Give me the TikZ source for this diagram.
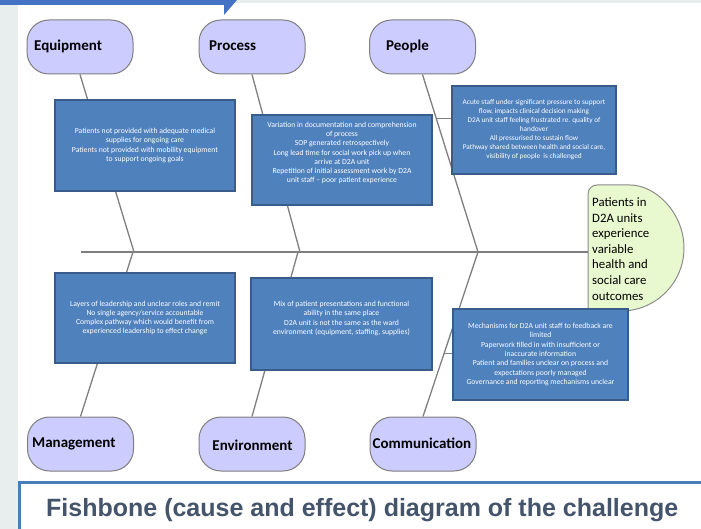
\documentclass[tikz,border=0pt]{standalone}
\usepackage{fontspec}
\setmainfont{Carlito}
\newfontfamily\titlefont{Liberation Sans}
\usetikzlibrary{calc}
\definecolor{ovfill}{HTML}{CCCCFF}
\definecolor{ovline}{HTML}{7F7F7F}
\definecolor{boxfill}{HTML}{4F81BD}
\definecolor{boxline}{HTML}{385D8A}
\definecolor{headfill}{HTML}{E8F8CF}
\definecolor{headline}{HTML}{8C8C8C}
\definecolor{boneclr}{HTML}{7F7F7F}
\definecolor{stripclr}{HTML}{E8EDED}
\definecolor{tabblue}{HTML}{4472C4}
\definecolor{titleclr}{HTML}{44546A}
\definecolor{titleline}{HTML}{4A7EBB}
\begin{document}
\begin{tikzpicture}[x=1pt,y=-1pt,
  oval/.style={draw=ovline, fill=ovfill, line width=1pt, rounded corners=22pt,
    minimum width=106pt, minimum height=54pt, inner sep=0pt},
  ovtext/.style={font=\fontsize{15}{18}\selectfont\bfseries, inner sep=0pt, text=black},
  causebox/.style={draw=boxline, fill=boxfill, line width=1.6pt, inner sep=0pt,
    text=white, align=center, font=\fontsize{7.7}{9.3}\selectfont},
  boxtext/.style={text=white, align=center, font=\fontsize{7.7}{9.3}\selectfont, inner sep=0pt},
  bone/.style={draw=boneclr, line width=1.3pt},
  spine/.style={draw=boneclr, line width=1.6pt}]

\useasboundingbox (0,0) rectangle (701,529);
\fill[stripclr] (0,0) rectangle (701,529);
\fill[white] (18,3) rectangle (701,529);
\fill[tabblue] (0,0) -- (237,0) -- (224,15) -- (224,5) -- (0,5) -- cycle;

% category ovals
\node[oval] (eq) at (80,47) {};
\node[oval] (pr) at (252,47) {};
\node[oval] (pe) at (422.5,47) {};
\node[oval] (ma) at (80.5,444) {};
\node[oval] (en) at (252,444) {};
\node[oval] (co) at (423,444) {};

\node[ovtext, anchor=west] (eqt) at (34,46) {Equipment};
\node[ovtext, anchor=west] (prt) at (209,46) {Process};
\node[ovtext, anchor=west] (pet) at (386,46) {People};
\node[ovtext, anchor=west] (mat) at (32,444) {Management};
\node[ovtext] (ent) at (252.5,445) {Environment};
\node[ovtext] (cot) at (422,443) {Communication};

% head
\draw[draw=headline, fill=headfill, line width=1pt]
  [rounded corners=9pt] (588,311) -- (588,185) -- (621,185)
  [sharp corners] arc[start angle=-90, end angle=90, radius=63] -- cycle;
\node[anchor=west, inner sep=0pt, align=left,
      font=\fontsize{12.8}{15.6}\selectfont] (head) at (592,249)
  {Patients in\\D2A units\\experience\\variable\\health and\\social care\\outcomes};

% spine and bones
\coordinate (tail) at (81,252);
\coordinate (headw) at (588,252);
\coordinate (s1) at (134,252);
\coordinate (s2) at (300,252);
\coordinate (s3) at (478,252);
\coordinate (t1) at (133,252);
\coordinate (t2) at (298,252);
\coordinate (t3) at (478,252);
\draw[spine] (tail) -- (headw);
\draw[bone] (eq.south) -- (s1);
\draw[bone] (pr.south) -- (s2);
\draw[bone] (pe.south) -- (s3) coordinate[pos=0.2472] (pstub);
\draw[bone] (t1) -- (ma.north);
\draw[bone] (t2) -- (en.north);
\draw[bone] (t3) -- (co.north);
\path (t3) -- (co.north) coordinate[pos=0.618] (cstub);

% cause boxes
\node[causebox, minimum width=180pt, minimum height=91pt] (eqbox) at (145,145.5)
  {Patients not provided with adequate medical\\supplies for ongoing care\\Patients not provided with mobility equipment\\to support ongoing goals};
\node[causebox, minimum width=180pt, minimum height=90pt] (prbox) at (342,160) {};
\node[boxtext] (prtext) at (342,153)
  {Variation in documentation and comprehension\\of process\\SOP generated retrospectively\\Long lead time for social work pick up when\\arrive at D2A unit\\Repetition of initial assessment work by D2A\\unit staff -- poor patient experience};
\node[causebox, minimum width=164pt, minimum height=88pt,
      font=\fontsize{7.3}{9}\selectfont] (pebox) at (534,130)
  {Acute staff under significant pressure to support\\flow, impacts clinical decision making\\D2A unit staff feeling frustrated re. quality of\\handover\\All pressurised to sustain flow\\Pathway shared between health and social care,\\visibility of people\ \ is challenged};
\node[causebox, minimum width=180pt, minimum height=90pt] (mabox) at (145,318)
  {Layers of leadership and unclear roles and remit\\No single agency/service accountable\\Complex pathway which would benefit from\\experienced leadership to effect change};
\node[causebox, minimum width=181pt, minimum height=92pt] (enbox) at (341.5,324) {};
\node[boxtext] (entext) at (341.5,318.5)
  {Mix of patient presentations and functional\\ability in the same place\\D2A unit is not the same as the ward\\environment (equipment, staffing, supplies)};
\node[causebox, minimum width=175pt, minimum height=91pt] (cobox) at (540.5,354.5)
  {Mechanisms for D2A unit staff to feedback are\\limited\\Paperwork filled in with insufficient or\\inaccurate information\\Patient and families unclear on process and\\expectations poorly managed\\Governance and reporting mechanisms unclear};

% stubs from bones to boxes
\draw[bone] (pstub) -- (pstub -| pebox.west);
\draw[bone] (cstub) -- (cstub -| cobox.west);

% title
\draw[draw=titleline, line width=3pt] (19,482) rectangle (712,540);
\node[anchor=base west, inner sep=0pt, text=titleclr,
      font=\titlefont\bfseries\fontsize{25}{30}\selectfont] (title) at (46,516)
  {Fishbone (cause and effect) diagram of the challenge};
\end{tikzpicture}
\end{document}
